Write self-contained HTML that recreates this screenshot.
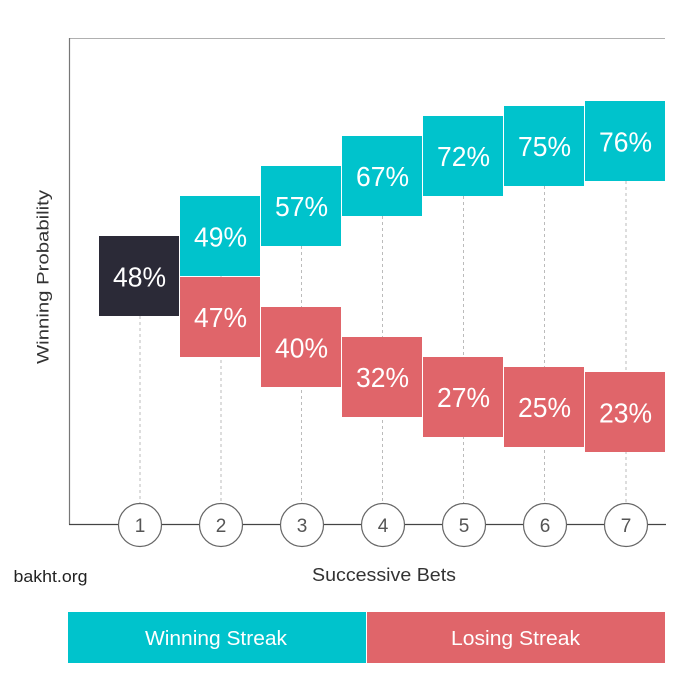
<!DOCTYPE html>
<html><head><meta charset="utf-8"><style>
html,body{margin:0;padding:0;background:#fff;}
svg{display:block;}
text{font-family:"Liberation Sans",sans-serif;}
</style></head><body>
<svg width="700" height="700" viewBox="0 0 700 700" xmlns="http://www.w3.org/2000/svg">
<rect width="700" height="700" fill="#fff"/>
<!-- frame -->
<line x1="69.5" y1="38.5" x2="665" y2="38.5" stroke="#b0b0b0" stroke-width="1"/>
<line x1="69.5" y1="38" x2="69.5" y2="524.5" stroke="#777" stroke-width="1.2"/>
<line x1="69" y1="524.5" x2="666" y2="524.5" stroke="#444" stroke-width="1.3"/>
<!-- dashed guides -->
<g stroke="#bbb" stroke-width="1" stroke-dasharray="3,3">
<line x1="140" y1="316" x2="140" y2="503"/>
<line x1="221" y1="276" x2="221" y2="503"/>
<line x1="301.5" y1="246" x2="301.5" y2="503"/>
<line x1="382.5" y1="216" x2="382.5" y2="503"/>
<line x1="463.5" y1="196" x2="463.5" y2="503"/>
<line x1="544.5" y1="186" x2="544.5" y2="503"/>
<line x1="626" y1="181" x2="626" y2="503"/>
</g>
<!-- boxes -->
<rect x="99" y="236" width="80" height="80" fill="#2b2a37"/>
<g fill="#00c3cc">
<rect x="180" y="196" width="80" height="80"/>
<rect x="261" y="166" width="80" height="80"/>
<rect x="342" y="136" width="80" height="80"/>
<rect x="423" y="116" width="80" height="80"/>
<rect x="504" y="106" width="80" height="80"/>
<rect x="585" y="101" width="80" height="80"/>
</g>
<g fill="#e0656a">
<rect x="180" y="277" width="80" height="80"/>
<rect x="261" y="307" width="80" height="80"/>
<rect x="342" y="337" width="80" height="80"/>
<rect x="423" y="357" width="80" height="80"/>
<rect x="504" y="367" width="80" height="80"/>
<rect x="585" y="372" width="80" height="80"/>
</g>
<g fill="#fff" font-size="28" text-anchor="middle">
<text x="139.5" y="286.5" textLength="53" lengthAdjust="spacingAndGlyphs">48%</text>
<text x="220.5" y="246.5" textLength="53" lengthAdjust="spacingAndGlyphs">49%</text>
<text x="301.5" y="216" textLength="53" lengthAdjust="spacingAndGlyphs">57%</text>
<text x="382.5" y="186" textLength="53" lengthAdjust="spacingAndGlyphs">67%</text>
<text x="463.5" y="166" textLength="53" lengthAdjust="spacingAndGlyphs">72%</text>
<text x="544.5" y="156" textLength="53" lengthAdjust="spacingAndGlyphs">75%</text>
<text x="625.5" y="151.5" textLength="53" lengthAdjust="spacingAndGlyphs">76%</text>
<text x="220.5" y="327" textLength="53" lengthAdjust="spacingAndGlyphs">47%</text>
<text x="301.5" y="357.5" textLength="53" lengthAdjust="spacingAndGlyphs">40%</text>
<text x="382.5" y="387" textLength="53" lengthAdjust="spacingAndGlyphs">32%</text>
<text x="463.5" y="407" textLength="53" lengthAdjust="spacingAndGlyphs">27%</text>
<text x="544.5" y="417" textLength="53" lengthAdjust="spacingAndGlyphs">25%</text>
<text x="625.5" y="422.5" textLength="53" lengthAdjust="spacingAndGlyphs">23%</text>
</g>
<!-- circles -->
<g fill="#fff" stroke="#666" stroke-width="1.2">
<circle cx="140" cy="525" r="21.5"/>
<circle cx="221" cy="525" r="21.5"/>
<circle cx="302" cy="525" r="21.5"/>
<circle cx="383" cy="525" r="21.5"/>
<circle cx="464" cy="525" r="21.5"/>
<circle cx="545" cy="525" r="21.5"/>
<circle cx="626" cy="525" r="21.5"/>
</g>
<g fill="#555" font-size="19" text-anchor="middle">
<text x="140" y="532">1</text>
<text x="221" y="532">2</text>
<text x="302" y="532">3</text>
<text x="383" y="532">4</text>
<text x="464" y="532">5</text>
<text x="545" y="532">6</text>
<text x="626" y="532">7</text>
</g>
<!-- axis labels -->
<text x="0" y="0" transform="translate(48.5,277) rotate(-90)" text-anchor="middle" font-size="17" fill="#333" textLength="174" lengthAdjust="spacingAndGlyphs">Winning Probability</text>
<text x="384" y="581" text-anchor="middle" font-size="18" fill="#333" textLength="144" lengthAdjust="spacingAndGlyphs">Successive Bets</text>
<text x="13.5" y="582" font-size="17" fill="#222" textLength="74" lengthAdjust="spacingAndGlyphs">bakht.org</text>
<!-- legend -->
<rect x="68" y="612" width="298" height="51" fill="#00c3cc"/>
<rect x="367" y="612" width="298" height="51" fill="#e0656a"/>
<text x="216" y="645" text-anchor="middle" font-size="20" fill="#fff" textLength="142" lengthAdjust="spacingAndGlyphs">Winning Streak</text>
<text x="515.5" y="645" text-anchor="middle" font-size="20" fill="#fff" textLength="129" lengthAdjust="spacingAndGlyphs">Losing Streak</text>
</svg>
</body></html>
